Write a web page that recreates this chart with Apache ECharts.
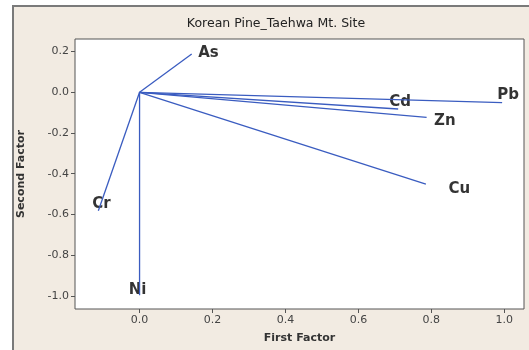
<!DOCTYPE html>
<html><head><meta charset="utf-8">
<script src="https://cdn.jsdelivr.net/npm/echarts@6/dist/echarts.min.js"></script>
<style>html,body{margin:0;padding:0;background:#fff}#c{width:529px;height:350px}</style>
</head><body><div id="c"></div>
<script>
const names = ['As','Cr','Ni','Cu','Pb','Zn','Cd'];
const firstFactor = [0.143, -0.113, 0.0, 0.785, 0.994, 0.787, 0.709];
const secondFactor = [0.188, -0.582, -0.997, -0.451, -0.051, -0.123, -0.082];
const xTicks = [0.0, 0.2, 0.4, 0.6, 0.8, 1.0];
const yTicks = [0.2, 0.0, -0.2, -0.4, -0.6, -0.8, -1.0];
const labelPos = {As:['right',[1,-1]], Cr:['top',[3,6]], Ni:['top',[-2,8]], Cu:['right',[17,5]], Pb:['top',[6,5]], Zn:['right',[2,4]], Cd:['top',[2,6]]};
const blue = '#3a5cc0';
const series = names.map((n,i)=>({
  type:'line', name:n, symbol:'none', silent:true,
  lineStyle:{color:blue,width:1.3},
  data:[[0,0],[firstFactor[i],secondFactor[i]]],
  animation:false
}));
series.push({
  type:'scatter', symbolSize:1, animation:false, silent:true,
  itemStyle:{color:'rgba(0,0,0,0)'},
  label:{show:true,color:'#000',fontFamily:'DejaVu Sans',fontWeight:'bold',fontSize:15,textBorderWidth:0},
  data:names.map((n,i)=>({value:[firstFactor[i],secondFactor[i]],name:n,
    label:{formatter:n,position:labelPos[n][0],offset:labelPos[n][1],color:'#000'}}))
});
const chart = echarts.init(document.getElementById('c'));
const fmt = v => v.toFixed(1);
chart.setOption({
  animation:false,
  graphic:[{type:'rect',shape:{x:13,y:6,width:530,height:360},style:{fill:'#f2ebe2',stroke:'#7a7a7a',lineWidth:2},z:-10}],
  title:{text:'Korean Pine_Taehwa Mt. Site',left:271,textAlign:'center',top:12,
    textStyle:{fontFamily:'DejaVu Sans',fontSize:12.5,fontWeight:'normal',color:'#222'}},
  grid:{left:75,top:39,width:449,height:270,show:true,backgroundColor:'#fff',borderColor:'#555',borderWidth:1},
  xAxis:{type:'value',min:-0.177,max:1.054,
    name:'First Factor',nameLocation:'middle',nameGap:24,
    nameTextStyle:{fontFamily:'DejaVu Sans',fontSize:11,fontWeight:'bold',color:'#333'},
    axisLine:{show:false,onZero:false},splitLine:{show:false},
    axisTick:{show:true,length:4,customValues:xTicks,lineStyle:{color:'#555'}},
    axisLabel:{customValues:xTicks,formatter:fmt,fontFamily:'DejaVu Sans',fontSize:11,color:'#444',margin:6}},
  yAxis:{type:'value',min:-1.065,max:0.262,
    name:'Second Factor',nameLocation:'middle',nameGap:48,
    nameTextStyle:{fontFamily:'DejaVu Sans',fontSize:11,fontWeight:'bold',color:'#333'},
    axisLine:{show:false,onZero:false},splitLine:{show:false},
    axisTick:{show:true,length:4,customValues:yTicks,lineStyle:{color:'#555'}},
    axisLabel:{customValues:yTicks,formatter:fmt,fontFamily:'DejaVu Sans',fontSize:11,color:'#444',margin:6}},
  series
});
</script></body></html>
